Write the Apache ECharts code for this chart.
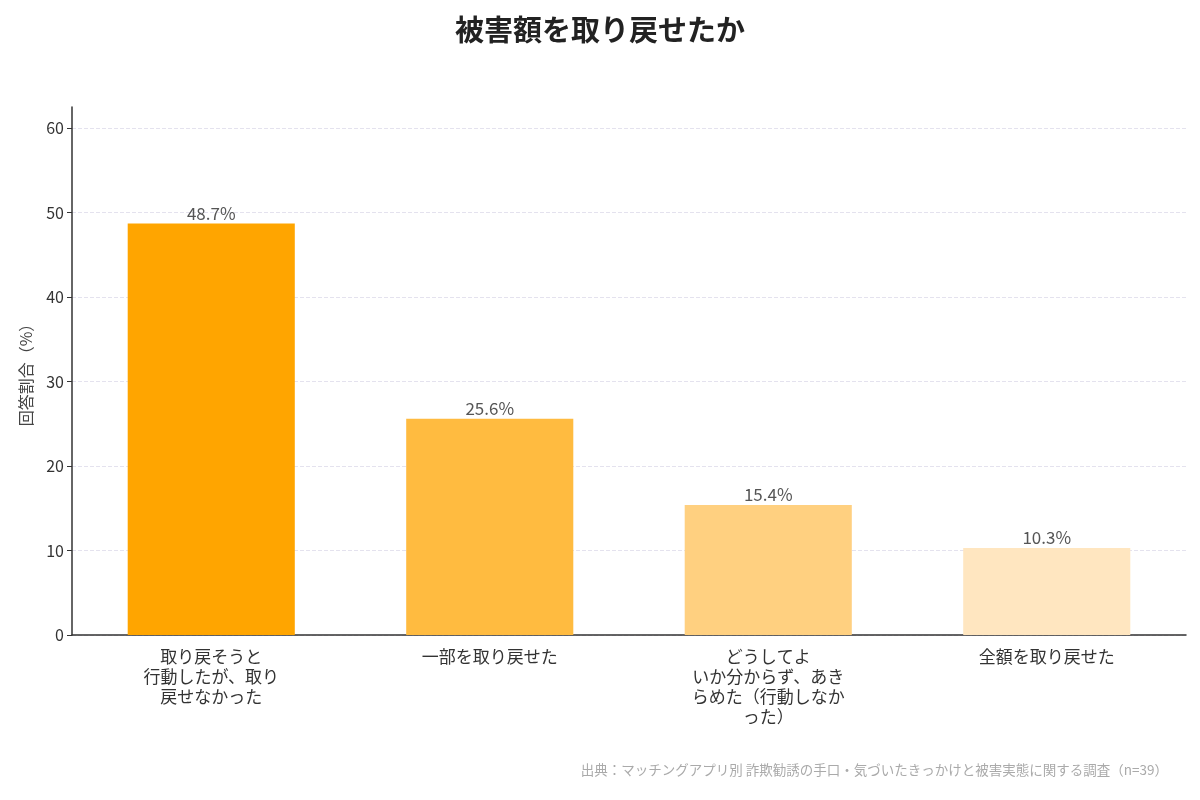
<!DOCTYPE html>
<html>
<head>
<meta charset="utf-8">
<script src="https://cdn.jsdelivr.net/npm/echarts@6/dist/echarts.min.js"></script>
<style>
  html, body { margin: 0; padding: 0; background: #fff; }
  #chart { width: 1200px; height: 800px; }
</style>
</head>
<body>
<div id="chart"></div>
<script>
const CATEGORIES = [
  '取り戻そうと\n行動したが、取り\n戻せなかった',
  '一部を取り戻せた',
  'どうしてよ\nいか分からず、あき\nらめた（行動しなか\nった）',
  '全額を取り戻せた',
]
const VALUES = [48.7, 25.6, 15.4, 10.3]
const BAR_COLORS = ['#FFA500', '#FFBB40', '#FFD080', '#FFE6C0']

const FONT = '"Noto Sans CJK JP", "Noto Sans", sans-serif'

const chart = echarts.init(document.getElementById('chart'), null, { renderer: 'canvas' })

chart.setOption({
  backgroundColor: '#ffffff',
  animation: false,
  textStyle: { fontFamily: FONT },
  title: {
    text: '被害額を取り戻せたか',
    left: 'center', top: 10,
    textStyle: { fontSize: 29, fontWeight: 'bold', color: '#222', fontFamily: FONT },
  },
  graphic: [{
    type: 'text', right: 32, top: 763,
    style: {
      text: '出典：マッチングアプリ別 詐欺勧誘の手口・気づいたきっかけと被害実態に関する調査（n=39）',
      fill: '#aaa', fontSize: 13.5, fontFamily: FONT,
    },
  }],
  grid: { left: 72, right: 14, top: 107, bottom: 165, outerBoundsMode: 'none' },
  xAxis: {
    type: 'category',
    data: CATEGORIES,
    axisLine: { lineStyle: { color: '#333', width: 1.5 } },
    axisTick: { alignWithLabel: true, length: 5, lineStyle: { color: '#333' } },
    axisLabel: { color: '#333', fontSize: 17, lineHeight: 20, margin: 12, interval: 0 },
  },
  yAxis: {
    type: 'value',
    min: 0, max: 62.5, interval: 10,
    name: '回答割合（%）',
    nameLocation: 'middle', nameGap: 38, nameRotate: 90,
    nameTextStyle: { color: '#444', fontSize: 16 },
    axisLine: { show: true, lineStyle: { color: '#333', width: 1.5 } },
    axisTick: { show: true, length: 5, lineStyle: { color: '#333' } },
    axisLabel: { color: '#333', fontSize: 16, showMaxLabel: false, margin: 8 },
    splitLine: { showMaxLine: false, lineStyle: { color: '#e4e2ee', type: 'dashed', width: 1 } },
  },
  series: [{
    type: 'bar',
    barWidth: '60%',
    data: VALUES.map((v, i) => ({ value: v, itemStyle: { color: BAR_COLORS[i] } })),
    label: {
      show: true, position: 'top', distance: 2,
      color: '#555', fontSize: 17,
      formatter: (p) => `${p.value.toFixed(1)}%`,
    },
  }],
})
</script>
</body>
</html>
